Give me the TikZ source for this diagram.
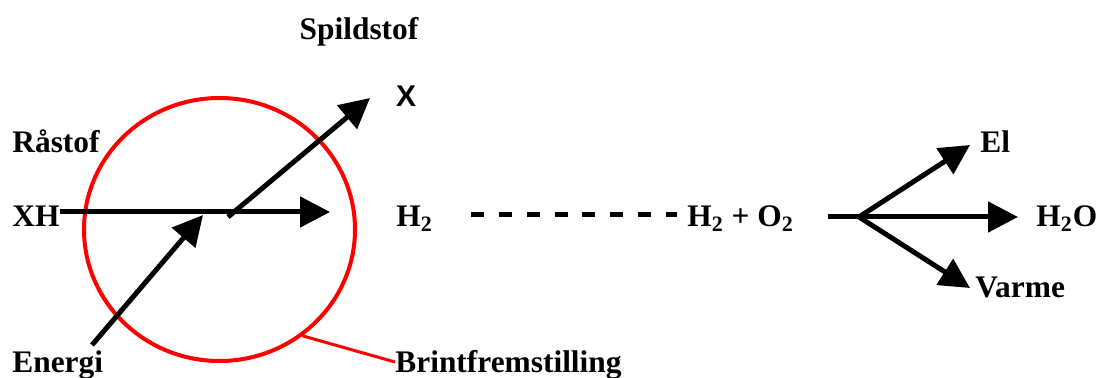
\documentclass[tikz,border=0pt]{standalone}
\usepackage{fontspec}
\setmainfont{Liberation Serif}
\setsansfont{Liberation Sans}
\usepackage{tikz}
\usetikzlibrary{arrows.meta,positioning,shapes.geometric,calc}
\definecolor{ringred}{HTML}{FF0000}

\begin{document}
\begin{tikzpicture}[x=0.5pt,y=-0.5pt,
  every node/.style={font=\fontsize{15.7}{18}\selectfont\bfseries,inner sep=0pt},
  flow/.style={-{Triangle[length=15pt,width=15pt]},line width=2.5pt},
  ring/.style={draw=ringred,line width=2pt,ellipse,minimum width=135.5pt,minimum height=131.5pt}]
  \useasboundingbox (0,0) rectangle (1096,378);
  % reactor and labels
  \node[ring] (reactor) at (219.5,229.5) {};
  \node[anchor=base] (spild) at (359,40) {Spildstof};
  \node[anchor=base,font=\sffamily\fontsize{15}{18}\selectfont\bfseries] (x) at (406,107) {X};
  \node[anchor=base west] (raa) at (12,153) {Råstof};
  \node[anchor=base west] (xh) at (12,227) {XH};
  \node[anchor=base west] (h2) at (396,227) {H\textsubscript{2}};
  \node[anchor=base west] (energi) at (12,373) {Energi};
  \node[anchor=base west] (brint) at (395,373) {Brintfremstilling};
  \node[anchor=base west] (h2o2) at (687,227) {H\textsubscript{2} + O\textsubscript{2}};
  \node[anchor=base west] (el) at (980,153) {El};
  \node[anchor=base west] (h2o) at (1036,227) {H\textsubscript{2}O};
  \node[anchor=base west] (varme) at (975,298) {Varme};
  % arrow ends
  \coordinate (h2tip) at (330,212);
  \coordinate (mix) at (228,217);
  \coordinate (xtip) at (370,98);
  \coordinate (etail) at (92,345);
  \coordinate (etip) at (203,215);
  \coordinate (fork) at (828,217);
  \coordinate (split) at (859,217);
  \coordinate (eltip) at (970,145);
  \coordinate (h2otip) at (1018,217);
  \coordinate (varmetip) at (970,288);
  % arrows
  \draw[flow] (xh.east |- h2tip) -- (h2tip);
  \draw[flow] (mix) -- (xtip);
  \draw[flow] (etail) -- (etip);
  \draw[line width=2.5pt,dash pattern=on 6.5pt off 7.4pt] (h2.east |- 0,215) -- (h2o2.west |- 0,215) [shorten <=19pt,shorten >=5pt];
  \draw[line width=2.5pt] (fork) -- (split);
  \draw[flow] (split) -- (eltip);
  \draw[flow] (split) -- (h2otip);
  \draw[flow] (split) -- (varmetip);
  \draw[ringred,line width=1.5pt] (reactor.-52) -- ($(brint.base west)+(0,-11)$);
\end{tikzpicture}
\end{document}
